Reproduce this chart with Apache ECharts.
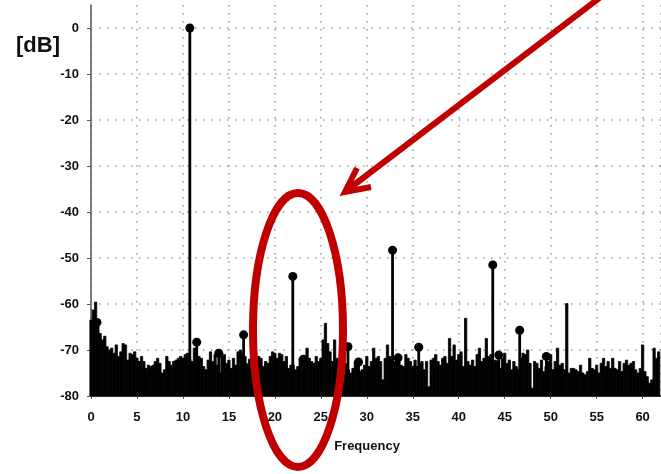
<!DOCTYPE html>
<html>
<head>
<meta charset="utf-8">
<script src="https://cdn.jsdelivr.net/npm/echarts@6/dist/echarts.min.js"></script>
<style>
html,body{margin:0;padding:0;background:#fff}
#container{width:661px;height:474px}
</style>
</head>
<body>
<div id="container"></div>
<script>
// axis ranges
var freqMin = 0, freqMax = 62, freqStep = 5;
var dbMin = -80, dbMax = 5, dbStep = 10;
var dbGrid = [0, -10, -20, -30, -40, -50, -60, -70];

// peaks with a round marker on top: [frequency, dB]
var peaks = [
	[0.65, -64], [10.75, 0], [11.5, -68.3], [13.9, -70.7], [16.6, -66.7],
	[21.95, -54], [23.1, -72], [27.95, -69.3], [29.1, -72.6], [32.8, -48.3],
	[33.4, -71.7], [35.65, -69.4], [43.7, -51.5], [44.35, -71.1],
	[46.63, -65.7], [49.53, -71.4]
];

// noise floor, one value per bin (bin width noiseStep, first bin at 0)
var noiseStep = 0.25;
var noise = [
	-63.5, -61.3, -59.6, -64, -66.4, -67.8, -67, -69.3, -70, -69.6,
	-70.7, -68.9, -71.4, -70.4, -68.6, -68.9, -72.2, -70.7, -71, -70.4,
	-71.8, -72.5, -71.4, -72.5, -74, -73.3, -73.6, -73.3, -72.5, -71.8,
	-72.9, -75, -74.3, -71.4, -72.5, -73.3, -72.5, -72.2, -71.8, -71.4,
	-71.8, -71, -70.7, -72, -72.5, -69.6, -72.9, -71.4, -71.8, -73.6,
	-74.3, -72.2, -70.4, -72.5, -71, -73.3, -75, -71.4, -71, -72.9,
	-72.2, -74, -71.8, -73.3, -70.4, -70, -70.7, -71.4, -73, -72,
	-74, -73, -72.5, -71.4, -71.8, -73.6, -72.5, -72.9, -71.4, -70.4,
	-70.7, -71.8, -70.7, -71, -72.5, -71.4, -74, -73.3, -73.3, -74.3,
	-73.6, -71.8, -71.4, -72.5, -69.6, -71.8, -72.5, -72.9, -71.4, -72.5,
	-71.8, -67.8, -64.2, -68.6, -70.4, -72.5, -67.8, -71.8, -73.3, -73.6,
	-72, -73, -74.3, -75, -74, -72.5, -72.9, -74.7, -74.3, -73.3,
	-71.4, -73.6, -72.5, -69.6, -71.8, -71.4, -72.5, -76.5, -71.8, -68.9,
	-71.4, -72, -72.5, -72.2, -72.5, -73.3, -73.6, -71, -71.8, -72.5,
	-73.6, -72.2, -73.6, -72.9, -72.5, -74.3, -72.5, -78, -72.2, -71.8,
	-71, -72.5, -73.3, -71.8, -71.4, -72.9, -67.5, -71.4, -68.9, -72.2,
	-71, -70.4, -73.6, -63.1, -72.5, -73.3, -72.2, -73.6, -71, -69.6,
	-72.5, -71.8, -67.5, -71.4, -71, -72.9, -72.2, -72.5, -74, -71.8,
	-70.7, -72.9, -72.2, -74.3, -72.5, -73.6, -74.3, -71.8, -70.7, -71,
	-70, -72.9, -78.3, -72.5, -72.9, -74, -72.2, -74.7, -73.6, -72.5,
	-71, -74.3, -72.5, -69.6, -73.3, -72.9, -74.3, -59.9, -75, -74,
	-74, -74.3, -74.7, -73.3, -75, -75.4, -74.7, -71.8, -74, -74.3,
	-73.3, -75, -72.9, -71.8, -73.6, -72.5, -74, -71.8, -74, -74.3,
	-72.5, -74.7, -72.9, -72.2, -73.3, -72.9, -72.5, -74.3, -75, -74,
	-68.9, -74.7, -75.8, -77.2, -76.5, -69.6, -71.8, -70.4
];

var labelFont = {
	fontFamily: 'Liberation Sans, Arial, sans-serif',
	fontWeight: 'bold',
	fontSize: 13,
	color: '#111'
};
var dotted = { color: '#999', width: 1.5, type: [1.5, 6.5] };
var annotRed = '#c00000';

var noiseData = noise.map(function (v, i) { return [i * noiseStep, v]; });

var dom = document.getElementById('container');
var myChart = echarts.init(dom);
var option = {
	animation: false,
	backgroundColor: '#fff',
	title: {
		text: '[dB]',
		left: 11,
		top: 30,
		textStyle: {
			fontFamily: 'Liberation Sans, Arial, sans-serif',
			fontWeight: 'bold',
			fontSize: 22,
			color: '#111'
		}
	},
	grid: {
		left: 91,
		top: 5,
		bottom: 78,
		width: (freqMax - freqMin) * 9.2
	},
	xAxis: {
		type: 'value',
		min: freqMin,
		max: freqMax,
		interval: freqStep,
		name: 'Frequency',
		nameLocation: 'middle',
		nameGap: 44,
		nameTextStyle: Object.assign({ padding: [0, 18, 0, 0] }, labelFont),
		axisLine: { show: true, onZero: false, lineStyle: { color: '#000', width: 1.5 } },
		axisTick: { show: true, length: 3, lineStyle: { color: '#555' } },
		axisLabel: Object.assign({ margin: 15, showMaxLabel: false }, labelFont),
		splitLine: { show: true, lineStyle: dotted }
	},
	yAxis: {
		type: 'value',
		min: dbMin,
		max: dbMax,
		interval: dbStep,
		axisLine: { show: true, lineStyle: { color: '#555', width: 1.5 } },
		axisTick: { show: true, length: 4, lineStyle: { color: '#555' } },
		axisLabel: Object.assign({ margin: 12, showMaxLabel: false }, labelFont),
		splitLine: { show: false }
	},
	series: [
		{
			name: 'noise',
			type: 'custom',
			z: 2,
			data: noiseData,
			renderItem: function (params, api) {
				var x = api.value(0), y = api.value(1);
				var p1 = api.coord([x - noiseStep / 2, y]);
				var p2 = api.coord([x + noiseStep / 2, dbMin]);
				return {
					type: 'rect',
					shape: { x: p1[0], y: p1[1], width: p2[0] - p1[0], height: p2[1] - p1[1] },
					style: { fill: '#000', stroke: '#000', lineWidth: 0.8 }
				};
			},
			markLine: {
				silent: true,
				z: 1,
				symbol: 'none',
				label: { show: false },
				lineStyle: dotted,
				data: dbGrid.map(function (v) { return { yAxis: v }; })
			}
		},
		{
			name: 'stems',
			type: 'custom',
			z: 3,
			data: peaks,
			renderItem: function (params, api) {
				var x = api.value(0), y = api.value(1);
				var a = api.coord([x, dbMin]);
				var b = api.coord([x, y]);
				return {
					type: 'line',
					shape: { x1: a[0], y1: a[1], x2: b[0], y2: b[1] },
					style: { stroke: '#000', lineWidth: 2.8 }
				};
			}
		},
		{
			name: 'peaks',
			type: 'scatter',
			z: 4,
			symbol: 'circle',
			symbolSize: 9,
			itemStyle: { color: '#000', opacity: 1 },
			data: peaks
		}
	],
	graphic: [
		{
			type: 'ellipse',
			z: 100,
			shape: { cx: 298, cy: 330, rx: 45, ry: 137 },
			style: { fill: 'none', stroke: annotRed, lineWidth: 8 }
		},
		{
			type: 'polyline',
			z: 100,
			shape: { points: [[602, -4], [346, 191]] },
			style: { fill: 'none', stroke: annotRed, lineWidth: 6 }
		},
		{
			type: 'polyline',
			z: 100,
			shape: { points: [[357, 168], [345, 192], [371, 187]] },
			style: { fill: 'none', stroke: annotRed, lineWidth: 6, lineJoin: 'miter' }
		}
	]
};
if (option && typeof option === 'object') {
	myChart.setOption(option, true);
}
</script>
</body>
</html>
